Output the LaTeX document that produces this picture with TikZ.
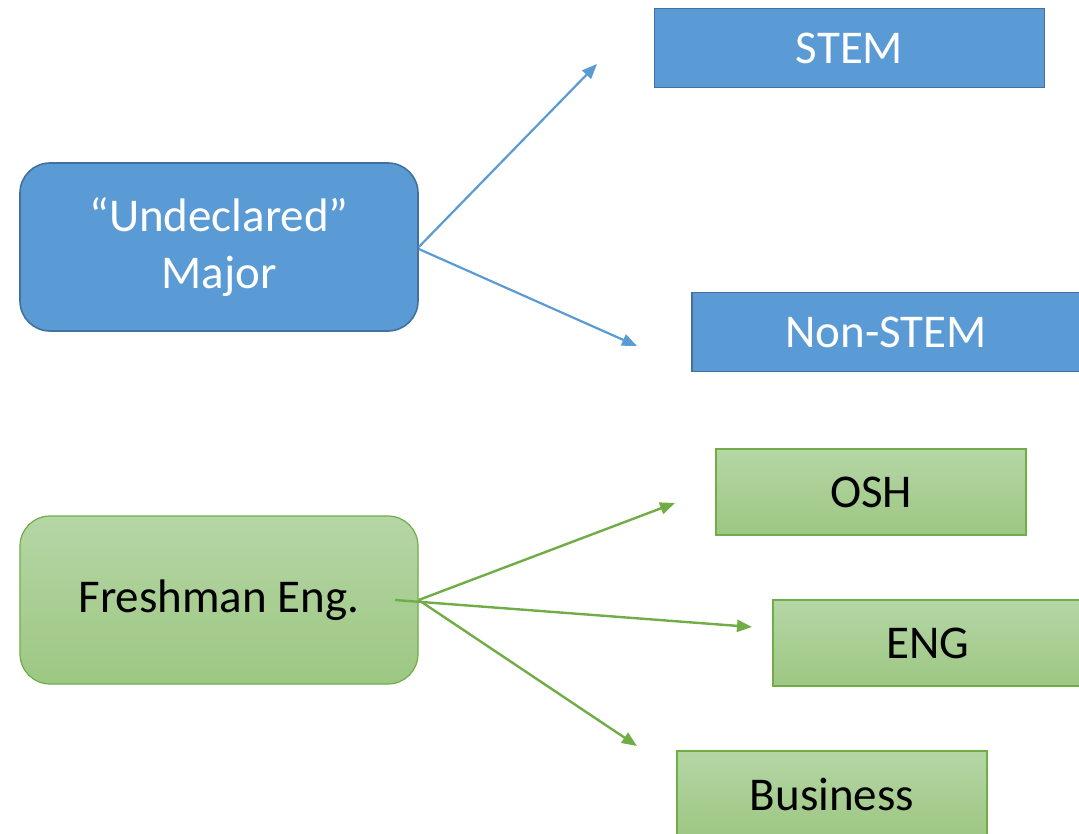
\documentclass[tikz,border=0pt]{standalone}
\usepackage{fontspec}
\setmainfont{Carlito}
\usetikzlibrary{arrows.meta}
\definecolor{bfill}{HTML}{5B9BD5}
\definecolor{bline}{HTML}{41719C}
\definecolor{gtop}{HTML}{B5D6A5}
\definecolor{gbot}{HTML}{9DC783}
\definecolor{gline}{HTML}{70AD47}
\tikzset{
  bluebox/.style={draw=bline, line width=1.6pt, fill=bfill, text=white, align=center, inner sep=0pt, font=\fontsize{47}{57}\selectfont},
  greenbox/.style={draw=gline, line width=1.2pt, top color=gtop, bottom color=gbot, text=black, align=center, inner sep=0pt, font=\fontsize{47}{57}\selectfont},
  bluearrow/.style={draw=bfill, line width=2.2pt, -{Triangle[length=15pt,width=12pt]}},
  greenarrow/.style={draw=gline, line width=2.4pt, -{Triangle[length=15pt,width=12pt]}},
}
\begin{document}
\begin{tikzpicture}[x=1pt,y=-1pt]
\useasboundingbox (0,0) rectangle (1079,834);
\begin{scope}
\clip (0,0) rectangle (1079,834);
\node[bluebox, rounded corners=30pt, minimum width=398pt, minimum height=168pt] (und) at (219,247) {“Undeclared”\\Major};
\node[bluebox, minimum width=390pt, minimum height=79pt] (stem) at (849.5,48) {STEM};
\node[bluebox, minimum width=390pt, minimum height=79pt] (nonstem) at (887,332) {\hspace*{-2pt}Non-STEM};
\node[greenbox, rounded corners=30pt, minimum width=398pt, minimum height=168pt] (fresh) at (219,600) {Freshman Eng.};
\node[greenbox, minimum width=310pt, minimum height=86pt] (osh) at (871,492) {OSH};
\node[greenbox, minimum width=310pt, minimum height=86pt] (eng) at (928,643) {ENG};
\node[greenbox, minimum width=310pt, minimum height=86pt] (bus) at (832,794) {Business};
\end{scope}
\coordinate (stemin) at (597,64);
\coordinate (nonstemin) at (637,346);
\coordinate (oshin) at (675,503);
\coordinate (engin) at (752,627);
\coordinate (busin) at (637,746);
\coordinate (fstart) at (395,600);
\draw[bluearrow] (und.east) -- (stemin);
\draw[bluearrow] ([yshift=-2pt]und.east) -- (nonstemin);
\draw[greenarrow] (fresh.east) -- (oshin);
\draw[greenarrow] (fstart) -- (engin);
\draw[greenarrow] (fresh.east) -- (busin);
\end{tikzpicture}
\end{document}
